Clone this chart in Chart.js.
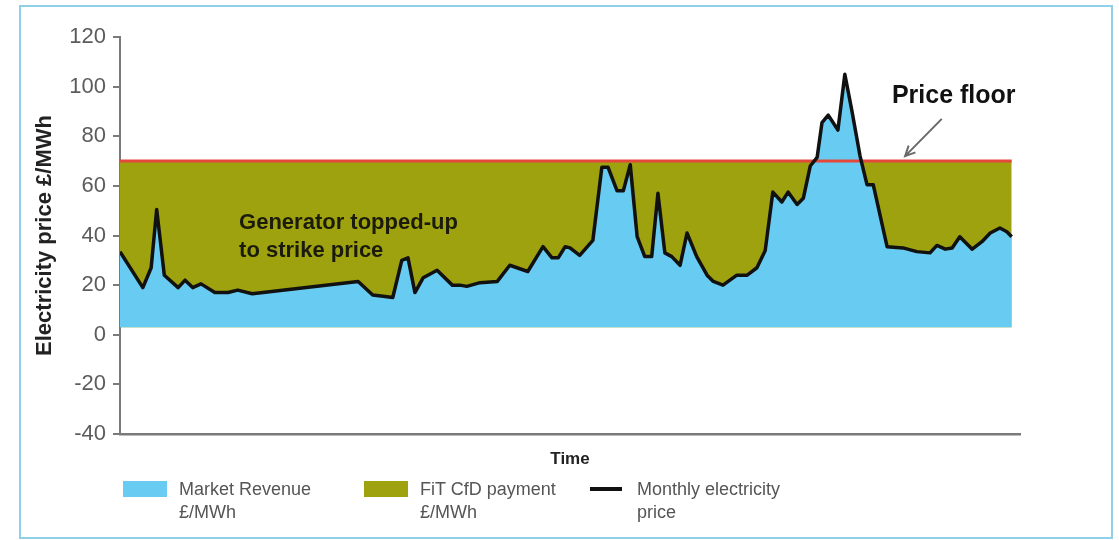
<!DOCTYPE html>
<html>
<head>
<meta charset="utf-8">
<script src="https://cdn.jsdelivr.net/npm/chart.js@4.4.1/dist/chart.umd.min.js"></script>
<style>
  body { margin: 0; background: #fff; }
  #wrap { position: relative; width: 1119px; height: 540px; overflow: hidden; }
  #frame { position: absolute; left: 19px; top: 5px; width: 1094px; height: 534px;
           border: 2.5px solid #8fd0e8; box-sizing: border-box; }
  #chart { position: absolute; left: 0; top: 0; }
  .lg { position: absolute; top: 478px; font-family: "Liberation Sans", Arial, sans-serif;
        font-size: 18px; line-height: 23px; color: #555; }
  .sw { position: absolute; }
</style>
</head>
<body>
<div id="wrap">
  <div id="frame"></div>
  <canvas id="chart" width="1119" height="540"></canvas>
  <div id="legend"></div>
</div>
<script>
// month index along the time axis and the monthly price (£/MWh)
const monthIdx = [0, 3.3, 4.5, 5.3, 6.4, 8.4, 9.4, 10.5, 11.7, 13.7, 15.6, 17.0, 19.1,
  34.4, 36.5, 38.0, 39.4, 40.7, 41.6, 42.6, 43.8, 45.8, 48.0, 49.1, 50.1, 52.0, 54.5,
  56.3, 58.9, 61.1, 62.4, 63.3, 64.3, 65.0, 66.4, 68.3, 69.6, 70.5, 71.8, 72.7, 73.7,
  74.7, 75.8, 76.8, 77.7, 78.7, 79.7, 80.9, 81.9, 83.3, 84.8, 85.7, 87.1, 89.1, 90.6,
  92.0, 93.2, 94.3, 95.6, 96.5, 97.8, 98.7, 99.7, 100.7, 101.4, 102.3, 103.7, 104.7,
  105.7, 106.9, 107.9, 108.8, 110.8, 113.1, 115.1, 117.0, 118.0, 119.2, 120.2, 121.3,
  123.1, 124.5, 125.7, 127.1, 128.1, 128.8];
const price = [33.5, 19, 27, 50.5, 24, 19, 22, 19, 20.5, 17, 17, 18, 16.5,
  21.5, 16, 15.5, 15, 30, 31, 17, 23, 26, 20, 20, 19.5, 21, 21.5,
  28, 25.5, 35.5, 31, 31, 35.5, 35, 32, 38, 67.5, 67.5, 58, 58, 68.5,
  39.5, 31.5, 31.5, 57, 33, 31.5, 28, 41, 31.5, 24, 21.5, 20, 24, 24,
  27, 34, 57.5, 53.5, 57.5, 52.5, 55, 68, 71.5, 85.5, 88.5, 82.5, 105,
  90.5, 72, 60.5, 60.5, 35.5, 35, 33.5, 33, 36, 34.5, 35, 39.5,
  34.5, 37.5, 41, 43, 41.5, 39.5];

const strikePrice = 70;   // strike price = price floor
const fillBase = 3;
const yTicks = [120, 100, 80, 60, 40, 20, 0, -20, -40];

const font = '"Liberation Sans", Arial, sans-serif';
const blue = '#67cbf2';
const olive = '#9fa20f';
const red = '#e4483a';

const pricePts = monthIdx.map((m, i) => ({ x: m, y: price[i] }));
const flatPts = [{ x: monthIdx[0], y: strikePrice }, { x: monthIdx[monthIdx.length - 1], y: strikePrice }];

// text notes + arrow inside the plot
const notes = {
  id: 'notes',
  afterDatasetsDraw(chart) {
    const { ctx, scales: { x, y } } = chart;
    ctx.save();
    ctx.fillStyle = '#1b1b0c';
    ctx.font = 'bold 22px ' + font;
    ctx.textAlign = 'left';
    ctx.textBaseline = 'alphabetic';
    ctx.fillText('Generator topped-up', x.getPixelForValue(17.2), y.getPixelForValue(42.6));
    ctx.fillText('to strike price', x.getPixelForValue(17.2), y.getPixelForValue(31.3));

    ctx.fillStyle = '#111';
    ctx.font = 'bold 25px ' + font;
    ctx.fillText('Price floor', x.getPixelForValue(111.5), y.getPixelForValue(93.4));

    const x1 = x.getPixelForValue(118.7), y1 = y.getPixelForValue(87);
    const x2 = x.getPixelForValue(113.4), y2 = y.getPixelForValue(72);
    const a = Math.atan2(y2 - y1, x2 - x1);
    ctx.strokeStyle = '#6a6a6a';
    ctx.lineWidth = 2;
    ctx.beginPath();
    ctx.moveTo(x1, y1);
    ctx.lineTo(x2, y2);
    ctx.moveTo(x2 - 11 * Math.cos(a - 0.45), y2 - 11 * Math.sin(a - 0.45));
    ctx.lineTo(x2, y2);
    ctx.lineTo(x2 - 11 * Math.cos(a + 0.45), y2 - 11 * Math.sin(a + 0.45));
    ctx.stroke();
    ctx.restore();
  }
};

const chart = new Chart(document.getElementById('chart'), {
  type: 'line',
  data: {
    datasets: [
      { label: 'Monthly electricity\nprice', data: pricePts, borderColor: '#111', borderWidth: 3.5,
        borderJoinStyle: 'round', pointRadius: 0, fill: false, order: 0 },
      { label: 'Price floor', data: flatPts, borderColor: red, borderWidth: 3,
        pointRadius: 0, fill: false, order: 1 },
      { label: 'Market Revenue\n£/MWh', data: pricePts, borderColor: 'transparent', backgroundColor: blue,
        pointRadius: 0, fill: { value: fillBase }, order: 2 },
      { label: 'FiT CfD payment\n£/MWh', data: flatPts, borderColor: 'transparent', backgroundColor: olive,
        pointRadius: 0, fill: { value: fillBase }, order: 3 }
    ]
  },
  options: {
    responsive: false,
    animation: false,
    tension: 0,
    layout: { padding: { left: 0, top: 37, right: 99, bottom: 66 } },
    plugins: { legend: { display: false }, tooltip: { enabled: false } },
    scales: {
      x: {
        type: 'linear', min: 0, max: 130,
        ticks: { display: false },
        grid: { display: false, drawTicks: false },
        border: { color: '#7a7a7a', width: 2.5 },
        title: { display: true, text: 'Time', color: '#222',
                 font: { family: font, size: 17, weight: 'bold' }, padding: { top: 0, bottom: 4 } },
        afterFit: (s) => { s.height = 40; s.paddingLeft = 0; s.paddingRight = 0; }
      },
      y: {
        min: -40, max: 120,
        afterBuildTicks: (s) => { s.ticks = yTicks.map((v) => ({ value: v })); },
        ticks: { color: '#5c5c5c', padding: 7, font: { family: font, size: 22 } },
        grid: { drawOnChartArea: false, tickLength: 7, color: '#7a7a7a', lineWidth: 2 },
        border: { color: '#7a7a7a', width: 2 },
        title: { display: true, text: 'Electricity price £/MWh', color: '#222',
                 font: { family: font, size: 22, weight: 'bold' }, padding: { top: 32, bottom: 0 } },
        afterFit: (s) => { s.width = 120; s.paddingTop = 0; s.paddingBottom = 0; }
      }
    }
  },
  plugins: [notes]
});

// legend under the axis, built from the datasets
const legendLeft = [123, 364, 590];
const legendSets = [2, 3, 0];
const legend = document.getElementById('legend');
legendSets.forEach((di, k) => {
  const ds = chart.data.datasets[di];
  const sw = document.createElement('div');
  sw.className = 'sw';
  if (ds.fill) {
    Object.assign(sw.style, { left: legendLeft[k] + 'px', top: '481px', width: '44px', height: '16px', background: ds.backgroundColor });
  } else {
    Object.assign(sw.style, { left: legendLeft[k] + 'px', top: '487px', width: '32px', height: '4px', background: ds.borderColor });
  }
  const txt = document.createElement('div');
  txt.className = 'lg';
  txt.style.left = (legendLeft[k] + (ds.fill ? 56 : 47)) + 'px';
  txt.innerHTML = ds.label.split('\n').join('<br>');
  legend.appendChild(sw);
  legend.appendChild(txt);
});
</script>
</body>
</html>
